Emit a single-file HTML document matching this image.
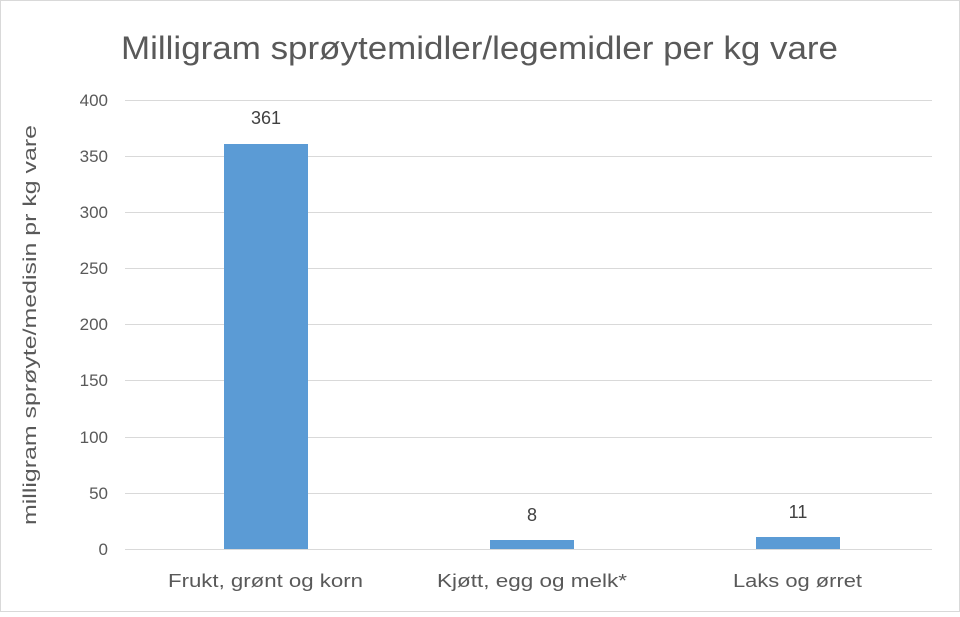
<!DOCTYPE html>
<html><head><meta charset="utf-8"><style>
html,body{margin:0;padding:0;background:#fff}
body{width:960px;height:612px;overflow:hidden}
</style></head><body>
<svg width="960" height="612" xmlns="http://www.w3.org/2000/svg" font-family="Liberation Sans, sans-serif">
<rect x="0.5" y="0.5" width="959" height="611" fill="#fff" stroke="#d9d9d9"/>
<text x="121" y="59" font-size="32" fill="#595959" textLength="717" lengthAdjust="spacingAndGlyphs">Milligram sprøytemidler/legemidler per kg vare</text>
<g stroke="#d9d9d9" stroke-width="1">
<line x1="125" x2="932" y1="100.5" y2="100.5"/>
<line x1="125" x2="932" y1="156.5" y2="156.5"/>
<line x1="125" x2="932" y1="212.5" y2="212.5"/>
<line x1="125" x2="932" y1="268.5" y2="268.5"/>
<line x1="125" x2="932" y1="324.5" y2="324.5"/>
<line x1="125" x2="932" y1="380.5" y2="380.5"/>
<line x1="125" x2="932" y1="437.5" y2="437.5"/>
<line x1="125" x2="932" y1="493.5" y2="493.5"/>
<line x1="125" x2="932" y1="549.5" y2="549.5"/>
</g>
<g font-size="17" fill="#595959" text-anchor="end">
<text x="108" y="106">400</text><text x="108" y="162">350</text><text x="108" y="218">300</text>
<text x="108" y="274">250</text><text x="108" y="330">200</text><text x="108" y="386">150</text>
<text x="108" y="443">100</text><text x="108" y="499">50</text><text x="108" y="555">0</text>
</g>
<text transform="translate(36,525) rotate(-90)" font-size="18" fill="#595959" textLength="400" lengthAdjust="spacingAndGlyphs">milligram sprøyte/medisin pr kg vare</text>
<g fill="#5b9bd5">
<rect x="224" y="144" width="84" height="405"/>
<rect x="490" y="540" width="84" height="9"/>
<rect x="756" y="537" width="84" height="12"/>
</g>
<g font-size="18" fill="#404040" text-anchor="middle">
<text x="266" y="124">361</text><text x="532" y="521">8</text><text x="798" y="518">11</text>
</g>
<g font-size="18" fill="#595959">
<text x="168" y="587" textLength="195" lengthAdjust="spacingAndGlyphs">Frukt, grønt og korn</text>
<text x="437" y="587" textLength="190" lengthAdjust="spacingAndGlyphs">Kjøtt, egg og melk*</text>
<text x="733" y="587" textLength="129" lengthAdjust="spacingAndGlyphs">Laks og ørret</text>
</g>
</svg>
</body></html>
